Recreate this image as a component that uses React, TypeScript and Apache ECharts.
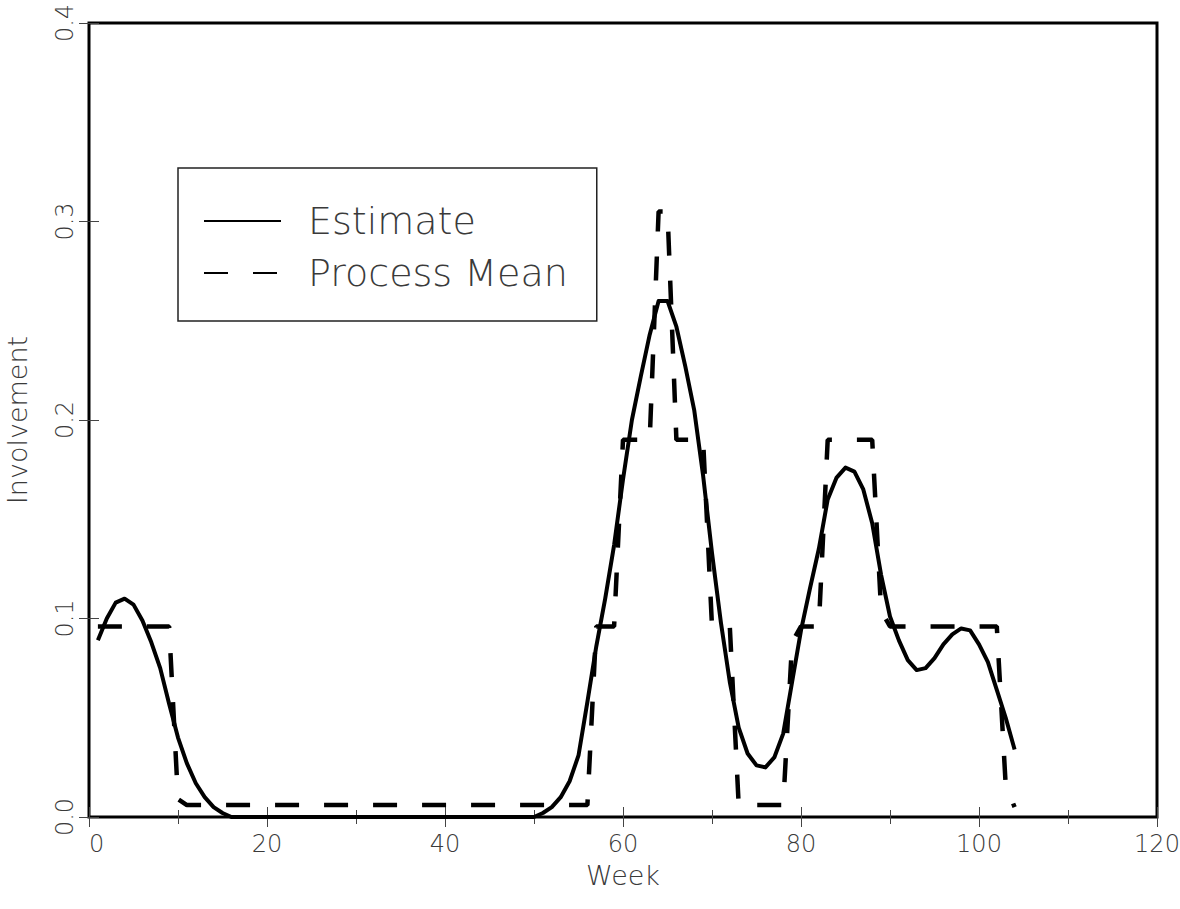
import React, { useEffect, useRef } from "react";
import * as echarts from "echarts";

// Weekly values, week 1 .. week 104
const estimate: number[] = [
  0.089, 0.100, 0.108, 0.110, 0.107, 0.099, 0.088, 0.075, 0.057, 0.040,
  0.027, 0.017, 0.010, 0.005, 0.002, 0, 0, 0, 0, 0,
  0, 0, 0, 0, 0, 0, 0, 0, 0, 0,
  0, 0, 0, 0, 0, 0, 0, 0, 0, 0,
  0, 0, 0, 0, 0, 0, 0, 0, 0, 0,
  0.002, 0.005, 0.010, 0.018, 0.031, 0.058, 0.086, 0.110, 0.137, 0.170,
  0.200, 0.222, 0.243, 0.260, 0.260, 0.247, 0.227, 0.205, 0.172, 0.133,
  0.098, 0.068, 0.045, 0.032, 0.026, 0.025, 0.030, 0.042, 0.068, 0.094,
  0.115, 0.135, 0.160, 0.171, 0.176, 0.174, 0.165, 0.148, 0.122, 0.101,
  0.089, 0.079, 0.074, 0.075, 0.080, 0.087, 0.092, 0.095, 0.094, 0.087,
  0.078, 0.064, 0.050, 0.034,
];

const processMean: number[] = [
  0.096, 0.096, 0.096, 0.096, 0.096, 0.096, 0.096, 0.096, 0.096, 0.009,
  0.006, 0.006, 0.006, 0.006, 0.006, 0.006, 0.006, 0.006, 0.006, 0.006,
  0.006, 0.006, 0.006, 0.006, 0.006, 0.006, 0.006, 0.006, 0.006, 0.006,
  0.006, 0.006, 0.006, 0.006, 0.006, 0.006, 0.006, 0.006, 0.006, 0.006,
  0.006, 0.006, 0.006, 0.006, 0.006, 0.006, 0.006, 0.006, 0.006, 0.006,
  0.006, 0.006, 0.006, 0.006, 0.006, 0.006, 0.096, 0.096, 0.096, 0.190,
  0.190, 0.190, 0.190, 0.305, 0.305, 0.190, 0.190, 0.190, 0.190, 0.096,
  0.096, 0.096, 0.006, 0.006, 0.006, 0.006, 0.006, 0.006, 0.088, 0.096,
  0.096, 0.096, 0.190, 0.190, 0.190, 0.190, 0.190, 0.190, 0.104, 0.096,
  0.096, 0.096, 0.096, 0.096, 0.096, 0.096, 0.096, 0.096, 0.096, 0.096,
  0.096, 0.096, 0.016, 0.005,
];

const firstWeek = 1;
const seriesNames = ["Estimate", "Process Mean"];
const xTitle = "Week";
const yTitle = "Involvement";

const FONT = "'DejaVu Sans', 'Liberation Sans', sans-serif";
const TXT = "#3a3a3a";

export default function App() {
  const ref = useRef<HTMLDivElement>(null);

  useEffect(() => {
    if (!ref.current) return;
    const chart = echarts.init(ref.current, null, { renderer: "svg" });

    const toPairs = (arr: number[]) => arr.map((v, i) => [i + firstWeek, v]);

    const xBase = {
      type: "value",
      min: 0,
      max: 120,
      interval: 20,
      axisLine: { show: false },
      splitLine: { show: false },
      axisTick: { show: true, inside: true, length: 10, lineStyle: { color: "#444", width: 1 } },
      minorTick: { show: true, splitNumber: 2, length: 7, lineStyle: { color: "#444", width: 1 } },
    };
    const yBase = {
      type: "value",
      min: 0,
      max: 0.4,
      interval: 0.1,
      axisLine: { show: false },
      splitLine: { show: false },
      axisTick: { show: true, inside: true, length: 10, lineStyle: { color: "#444", width: 1 } },
    };

    chart.setOption({
      animation: false,
      backgroundColor: "#fff",
      grid: {
        left: 89,
        top: 23,
        right: 23,
        bottom: 92,
        containLabel: false,
        outerBoundsMode: "none",
        show: true,
        borderColor: "#000",
        borderWidth: 3,
        backgroundColor: "transparent",
      },
      legend: {
        data: seriesNames,
        orient: "vertical",
        left: 178,
        top: 168,
        itemWidth: 77,
        itemHeight: 2,
        itemGap: 14,
        padding: [34, 29, 29, 25],
        borderColor: "#222",
        borderWidth: 1.5,
        itemStyle: { opacity: 0, borderWidth: 0 },
        textStyle: {
          fontSize: 38,
          fontFamily: FONT,
          fontWeight: 200,
          color: TXT,
          padding: [0, 0, 0, 22],
        },
      },
      xAxis: [
        {
          ...xBase,
          position: "bottom",
          name: xTitle,
          nameLocation: "middle",
          nameGap: 45,
          nameMoveOverlap: false,
          nameTextStyle: { fontSize: 27, lineHeight: 27, fontFamily: FONT, fontWeight: 200, color: TXT },
          axisLabel: {
            show: true,
            margin: 15,
            fontSize: 24,
            lineHeight: 24,
            fontFamily: FONT,
            fontWeight: 200,
            color: TXT,
            alignMinLabel: "left",
          },
        },
        {
          ...xBase,
          position: "top",
          axisLabel: { show: false },
        },
      ],
      yAxis: [
        {
          ...yBase,
          position: "left",
          name: yTitle,
          nameLocation: "middle",
          nameGap: 58,
          nameMoveOverlap: false,
          nameRotate: 90,
          nameTextStyle: { fontSize: 27, fontFamily: FONT, fontWeight: 200, color: TXT },
          axisLabel: {
            show: true,
            rotate: 90,
            margin: 12,
            fontSize: 24,
            fontFamily: FONT,
            fontWeight: 200,
            color: TXT,
            align: "center",
            verticalAlign: "bottom",
            formatter: (v: number) => v.toFixed(1),
          },
        },
        {
          ...yBase,
          position: "right",
          axisLabel: { show: false },
        },
      ],
      series: [
        {
          name: seriesNames[0],
          type: "line",
          xAxisIndex: 0,
          yAxisIndex: 0,
          data: toPairs(estimate),
          symbol: "none",
          showSymbol: false,
          lineStyle: { color: "#000", width: 4, type: "solid", join: "round" },
          itemStyle: { color: "#000" },
        },
        {
          name: seriesNames[1],
          type: "line",
          xAxisIndex: 0,
          yAxisIndex: 0,
          data: toPairs(processMean),
          symbol: "none",
          showSymbol: false,
          lineStyle: { color: "#000", width: 4.5, type: [24, 25], cap: "butt" },
          itemStyle: { color: "#000" },
        },
      ],
    });

    return () => chart.dispose();
  }, []);

  return (
    <div
      ref={ref}
      style={{ position: "absolute", left: 0, top: 0, width: 1180, height: 909, background: "#fff" }}
    />
  );
}
